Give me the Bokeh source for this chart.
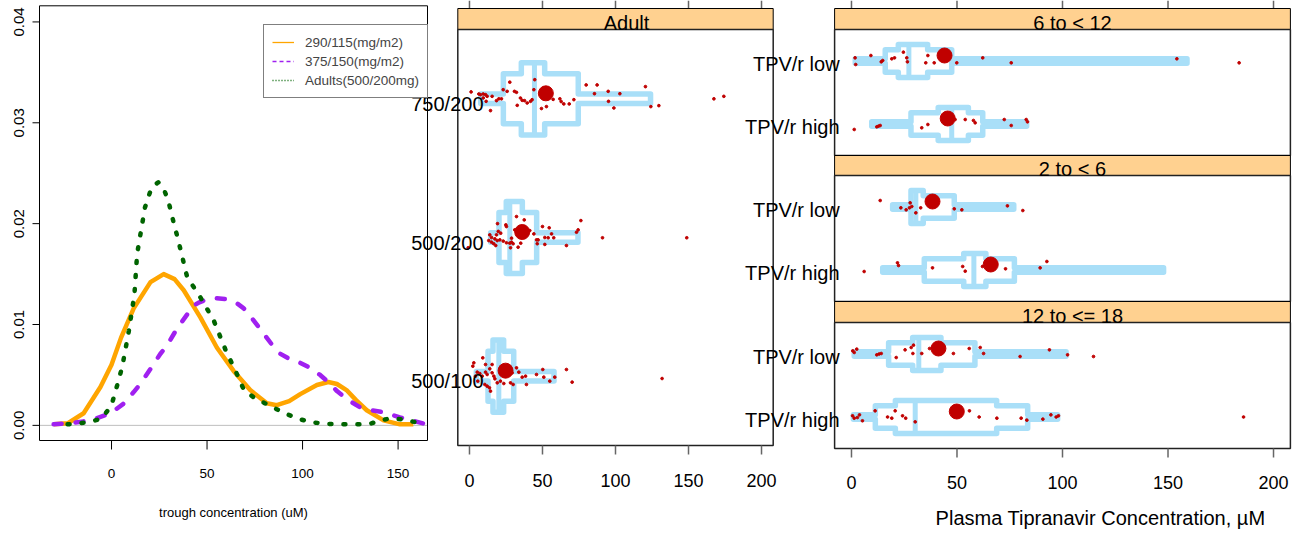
import math
from bokeh.plotting import figure
from bokeh.models import Range1d, Legend, LegendItem
from bokeh.core.properties import value
from bokeh.embed import file_html
from bokeh.resources import INLINE

# ------------------------------------------------------------------ data
# density panel (left)
dens_labels = ["290/115(mg/m2)", "375/150(mg/m2)", "Adults(500/200mg)"]
orange_x = [-30.3, -23, -14.6, -5.8, 0, 5, 11.6, 20.4, 27.3, 33, 37.8, 46.5, 55.2, 63.9, 72.6,
            81.3, 86.5, 93, 98.8, 107.5, 113.5, 118, 123, 128, 133.6, 142.4, 151, 158]
orange_y = [0.0001, 0.0002, 0.0012, 0.0038, 0.0060, 0.0087, 0.0116, 0.0142, 0.0150, 0.0145, 0.0134,
            0.0107, 0.0077, 0.0054, 0.0035, 0.0022, 0.0020, 0.0024, 0.0031, 0.0040, 0.0043, 0.0041,
            0.0035, 0.0025, 0.0015, 0.0005, 0.0001, 0.0001]
purple_x = [-30.3, -22, -14.6, -8, -0.5, 6, 11.6, 15, 20.4, 25.6, 29, 34.3, 40, 43, 46, 50, 55, 60.5,
            65, 69.2, 74, 79.6, 84, 88.3, 93, 98.8, 104, 109.2, 114, 118, 124, 130, 136, 142.4, 151,
            157, 163]
purple_y = [0.0001, 0.0002, 0.0004, 0.0007, 0.0012, 0.0021, 0.0033, 0.0041, 0.0056, 0.0071, 0.0079,
            0.0096, 0.0111, 0.0119, 0.0122, 0.0125, 0.0126, 0.0125, 0.0122, 0.0116, 0.0105, 0.0091,
            0.0080, 0.0071, 0.0066, 0.0062, 0.0057, 0.0050, 0.0042, 0.0034, 0.0025, 0.0018, 0.0015,
            0.0013, 0.0008, 0.0005, 0.0002]
green_x = [-23, -17, -10, -5, 0, 3, 5.6, 9.1, 12, 13.4, 17.5, 21, 24.5, 27, 29.7, 32, 35, 39.6, 46.5,
           53.5, 60.5, 64, 69.3, 75, 80.2, 90.7, 97, 104.6, 116.8, 130.7, 136, 141.2, 146, 151.6,
           157, 163]
green_y = [0.0001, 0.0002, 0.0004, 0.0007, 0.0020, 0.0040, 0.0058, 0.0094, 0.0130, 0.0170, 0.0216,
           0.0236, 0.0241, 0.0236, 0.0223, 0.0205, 0.0183, 0.0147, 0.0127, 0.0104, 0.0071, 0.0058,
           0.0035, 0.0027, 0.0022, 0.0012, 0.0007, 0.0003, 0.0001, 0.0001, 0.0002, 0.0005, 0.0007,
           0.0006, 0.0004, 0.0002]
dens_xticks = [0, 50, 100, 150]
dens_yticks = [0.0, 0.01, 0.02, 0.03, 0.04]
dens_ytick_labels = ["0.00", "0.01", "0.02", "0.03", "0.04"]
dens_xlabel = "trough concentration (uM)"

# adult panel (middle)
adult_strip = "Adult"
adult_groups = ["750/200", "500/200", "500/100"]
adult_thin_lo = [7.7, 14.5, 4.7]
adult_thin_hi = [124.0, 74.3, 57.9]
adult_box_lo = [23.2, 20.2, 12.7]
adult_box_hi = [74.5, 46.0, 30.3]
adult_core_lo = [35.5, 25.2, 16.1]
adult_core_hi = [51.5, 36.2, 23.4]
adult_median = [44.5, 27.6, 20.1]
adult_mean = [52.3, 36.1, 24.7]
adult_pts_x = [
    [1.1, 6.4, 7.5, 9.4, 11.0, 12.1, 9.4, 11.4, 14.4, 15.5, 18.5, 20.1, 21.9, 23.1, 25.8, 27.6,
     30.8, 32.2, 32.7, 34.9, 36.1, 37.7, 39.5, 41.8, 42.9, 44.7, 44.1, 49.3, 52.7, 57.3, 61.9,
     62.8, 64.6, 68.3, 71.5, 79.9, 87.4, 85.6, 95.0, 95.2, 98.9, 103.0, 120.5, 124.2, 129.7,
     167.4, 174.2],
    [-0.9, 13.9, 15.1, 13.2, 15.1, 16.6, 18.0, 17.4, 18.5, 19.2, 19.7, 21.4, 19.0, 20.8, 23.1,
     24.9, 25.3, 25.3, 27.6, 28.8, 28.1, 29.9, 28.8, 31.0, 32.2, 33.3, 35.1, 37.5, 41.3, 44.1,
     45.9, 47.0, 46.4, 50.0, 54.6, 56.2, 57.7, 51.6, 53.9, 51.6, 66.4, 73.3, 74.4, 76.3, 91.1,
     148.8],
    [2.97, 2.3, 9.1, 11.0, 15.5, 5.3, 7.1, 8.7, 4.1, 5.7, 11.0, 12.1, 13.9, 15.5, 16.7, 10.5,
     12.1, 14.4, 13.7, 17.4, 19.0, 21.2, 23.5, 28.1, 29.2, 32.2, 33.8, 29.9, 36.1, 38.4, 39.0,
     45.9, 50.2, 50.9, 55.0, 58.4, 66.4, 70.3, 131.9],
]
adult_pts_jitter = [
    [-0.05, -0.035, -0.03, -0.035, -0.03, -0.018, -0.006, 0.018, 0.085, -0.018, 0.013, 0.0, 0.0,
     -0.066, -0.054, -0.12, -0.054, -0.047, 0.047, -0.006, 0.011, 0.013, 0.03, 0.018, 0.006,
     -0.138, -0.066, 0.07, 0.056, 0.004, 0.0, 0.02, 0.037, 0.037, 0.006, -0.1, -0.1, -0.037,
     -0.054, 0.018, 0.066, -0.037, -0.088, 0.056, 0.049, 0.0, -0.018],
    [0.074, -0.019, 0.0, 0.022, 0.034, 0.045, 0.058, 0.01, -0.019, -0.1, -0.044, -0.031, 0.022,
     0.017, 0.026, -0.091, -0.079, 0.038, 0.041, 0.034, 0.074, 0.045, 0.005, -0.055, -0.151,
     0.07, 0.041, -0.127, -0.05, -0.026, 0.017, 0.017, 0.045, -0.079, -0.07, -0.026, 0.002, 0.0,
     0.002, 0.05, 0.058, -0.038, -0.055, -0.122, 0.002, 0.002],
    [-0.096, -0.072, -0.132, -0.084, -0.084, -0.029, -0.019, 0.0, 0.0, 0.036, -0.029, -0.012,
     -0.053, -0.024, 0.0, 0.06, 0.072, 0.108, 0.084, 0.019, 0.048, 0.036, 0.053, 0.048, -0.024,
     -0.06, -0.029, 0.06, 0.007, 0.0, 0.06, -0.012, -0.048, 0.007, 0.036, 0.007, -0.048, 0.043,
     0.017],
]

# paediatric panels (right): one entry per age strip, each [TPV/r low, TPV/r high]
ped_strips = ["6 to < 12", "2 to < 6", "12 to <= 18"]
ped_rows = ["TPV/r low", "TPV/r high"]
ped_thin_lo = [[1.8, 9.6], [19.5, 14.8], [1.3, 0.9]]
ped_thin_hi = [[159.0, 83.0], [76.9, 147.9], [101.7, 97.7]]
ped_box_lo = [[16.0, 28.2], [29.0, 34.5], [17.6, 11.3]]
ped_box_hi = [[47.5, 62.2], [48.7, 77.2], [58.5, 83.5]]
ped_core_lo = [[22.2, 41.1], [28.2, 53.2], [29.0, 20.8]]
ped_core_hi = [[36.1, 55.4], [34.0, 63.7], [42.4, 68.8]]
ped_median = [[27.2, 47.5], [30.5, 58.0], [31.9, 30.2]]
ped_mean = [[44.1, 45.6], [38.4, 66.0], [41.2, 49.9]]
ped_pts_x = [
    [[1.7, 2.0, 9.2, 14.1, 14.8, 19.1, 20.4, 24.6, 26.2, 26.5, 35.2, 36.2, 39.2, 49.9, 62.2, 75.7,
      154.2, 183.7],
     [1.3, 12.0, 12.8, 13.6, 33.3, 36.2, 49.1, 53.9, 57.8, 58.6, 72.4, 75.7, 82.8, 83.4]],
    [[13.6, 23.4, 25.9, 27.5, 28.6, 27.8, 30.5, 32.8, 48.7, 52.3, 73.9, 81.2],
     [6.0, 21.8, 22.3, 38.4, 52.7, 53.9, 62.1, 73.0, 89.4, 92.6]],
    [[0.6, 1.3, 2.5, 12.0, 13.1, 14.1, 21.2, 25.4, 28.3, 29.4, 29.1, 33.3, 37.0, 48.3, 55.8, 61.0,
      62.6, 79.9, 93.8, 102.4, 114.7],
     [0.5, 1.3, 2.8, 3.8, 5.2, 11.2, 17.1, 19.1, 20.7, 24.2, 25.7, 30.2, 55.9, 60.5, 68.9, 80.4,
      83.1, 90.7, 94.5, 97.0, 98.1, 185.8]],
]
ped_pts_jitter = [
    [[-0.05, 0.056, -0.087, 0.013, -0.008, -0.035, -0.05, -0.14, -0.05, 0.013, 0.029, -0.087,
      0.029, 0.029, -0.05, 0.029, -0.035, 0.029],
     [0.087, 0.045, 0.034, 0.024, 0.06, 0.008, -0.071, -0.071, -0.056, -0.019, -0.071, 0.024,
      -0.071, -0.034]],
    [[-0.103, 0.013, 0.045, 0.013, -0.008, -0.066, 0.093, 0.013, 0.029, 0.045, -0.018, 0.056],
     [0.024, -0.114, -0.071, -0.034, -0.056, 0.019, -0.056, -0.019, -0.034, -0.135]],
    [[-0.05, -0.024, -0.077, 0.013, 0.0, -0.008, 0.056, -0.066, -0.103, -0.14, -0.008, -0.008,
      -0.087, -0.008, -0.087, -0.103, -0.008, 0.04, -0.066, 0.013, 0.04],
     [-0.019, 0.019, 0.008, -0.034, 0.06, -0.098, 0.0, 0.019, -0.098, -0.019, 0.019, 0.077,
      -0.098, 0.0, 0.019, 0.019, 0.05, 0.034, -0.034, 0.0, -0.019, 0.0]],
]
conc_ticks = [0, 50, 100, 150, 200]
conc_xlabel = "Plasma Tipranavir Concentration, \u00b5M"

# ------------------------------------------------------------------ styles / layout
W, H = 1309, 535
MARGIN = 0
BLUE = "#A9DFF8"
RED = "#C00000"
STRIP = "#FFD190"
FRAME = "#222222"
TICK = "#666666"
SANS_NAME = "Liberation Sans"
SANS = value(SANS_NAME)
H_THIN, H_BOX, H_CORE = 0.034, 0.18, 0.26


def page_range(d_a, p_a, d_b, p_b, size, vertical=False):
    """Range so that data d_a lands at page pixel p_a and d_b at p_b."""
    s = (d_b - d_a) / (p_b - p_a)
    c_a = p_a - MARGIN
    v0 = d_a - c_a * s
    v1 = d_a + (size - c_a) * s
    return Range1d(start=v1, end=v0) if vertical else Range1d(start=v0, end=v1)


# density panel limits and its page box
XL0, XL1, YL0, YL1 = -37.7, 165.4, -0.0015, 0.0416
DPX = (39, 427, 440, 5.3)
# box panels: x limits shared
XB0, XB1 = -8, 208
MPX = (457.3, 772.7)
RPX = (834.1, 1289.9)
ADULT_Y = (29, 445)
PED_Y = [(29, 155), (175, 301), (322, 448)]
STRIP_PX = [21, 20, 21]

p = figure(width=W, height=H, x_range=Range1d(0, 1), y_range=Range1d(0, 1),
           x_axis_type=None, y_axis_type=None, toolbar_location=None,
           output_backend="svg", min_border=0, outline_line_color=None)
p.min_border_left = p.min_border_right = p.min_border_top = p.min_border_bottom = 0

p.extra_x_ranges = {
    "xd": page_range(XL0, DPX[0], XL1, DPX[1], W),
    "xm": page_range(XB0, MPX[0], XB1, MPX[1], W),
    "xr": page_range(XB0, RPX[0], XB1, RPX[1], W),
}
yr = {
    "yd": page_range(YL0, DPX[2], YL1, DPX[3], H, vertical=True),
    "ym": page_range(-0.5, ADULT_Y[0], 2.5, ADULT_Y[1], H, vertical=True),
}
for k, (a, b) in enumerate(PED_Y):
    yr["y%d" % k] = page_range(-0.5, a, 1.5, b, H, vertical=True)
p.extra_y_ranges = yr

# ------------------------------------------------------------------ left: densities
kd = dict(x_range_name="xd", y_range_name="yd")
ux = (XL1 - XL0) / (DPX[1] - DPX[0])
uy = (YL1 - YL0) / (DPX[2] - DPX[3])
p.segment(x0=[XL0], x1=[XL1], y0=[0], y1=[0], line_color="#BEBEBE", line_width=1, **kd)
p.line(orange_x, orange_y, line_color="orange", line_width=4.5, line_join="round", **kd)
p.line(purple_x, purple_y, line_color="#A020F0", line_width=4.5, line_dash="8 14",
       line_cap="round", line_join="round", **kd)
p.line(green_x, green_y, line_color="#006400", line_width=4.5, line_dash="2 12",
       line_cap="round", line_join="round", **kd)
p.quad(left=[XL0], right=[XL1], bottom=[YL0], top=[YL1], fill_color=None,
       line_color="black", line_width=1, **kd)
n = len(dens_yticks)
p.segment(x0=[XL0] * n, x1=[XL0 - 7 * ux] * n, y0=dens_yticks, y1=dens_yticks,
          line_color="black", line_width=1, **kd)
p.text(x=[XL0] * n, y=dens_yticks, text=dens_ytick_labels, angle=math.pi / 2, x_offset=-20.5,
       text_align="center", text_baseline="middle", text_font=SANS,
       text_font_size="15px", text_color="black", **kd)
m = len(dens_xticks)
p.segment(x0=dens_xticks, x1=dens_xticks, y0=[YL0] * m, y1=[YL0 - 9 * uy] * m,
          line_color="black", line_width=1, **kd)
p.text(x=dens_xticks, y=[YL0] * m, text=[str(t) for t in dens_xticks], y_offset=33,
       text_align="center", text_baseline="middle", text_font=SANS,
       text_font_size="13.5px", text_color="black", **kd)
p.text(x=[(XL0 + XL1) / 2], y=[YL0], text=[dens_xlabel], y_offset=72, text_align="center",
       text_baseline="middle", text_font=SANS, text_font_size="13px", text_color="black", **kd)

# legend with thin proxy lines
proxies = [
    p.line(orange_x, orange_y, line_color="orange", line_width=1.3, visible=False, **kd),
    p.line(purple_x, purple_y, line_color="#A020F0", line_width=1.5, line_dash="4 3",
           visible=False, **kd),
    p.line(green_x, green_y, line_color="#006400", line_width=1.3, line_dash="1 2",
           visible=False, **kd),
]
legend = Legend(items=[LegendItem(label=l, renderers=[r]) for l, r in zip(dens_labels, proxies)],
                location=(263, H - 98), padding=8, spacing=1, margin=0,
                glyph_width=22, glyph_height=18, label_height=18, label_standoff=11,
                label_text_font=SANS_NAME, label_text_font_size="13.5px",
                border_line_color="black", border_line_width=1,
                background_fill_color="white", background_fill_alpha=1)
p.add_layout(legend)


# ------------------------------------------------------------------ box panels
def outline(los, his, hs, yc):
    edges = sorted(set(los + his))
    segs = []
    for a, b in zip(edges[:-1], edges[1:]):
        mid = 0.5 * (a + b)
        h = max([hh for lo, hi, hh in zip(los, his, hs) if lo <= mid <= hi] or [0])
        segs.append((a, b, h))
    xs, ys = [], []
    for a, b, h in segs:
        xs += [a, b]
        ys += [yc - h, yc - h]
    for a, b, h in reversed(segs):
        xs += [b, a]
        ys += [yc + h, yc + h]
    return xs, ys


def draw_panel(xn, yn, thin_lo, thin_hi, box_lo, box_hi, core_lo, core_hi, med, mean,
               pts_x, pts_j, mean_shift):
    kw = dict(x_range_name=xn, y_range_name=yn)
    xs, ys = [], []
    for i in range(len(thin_lo)):
        a, b = outline([thin_lo[i], box_lo[i], core_lo[i]], [thin_hi[i], box_hi[i], core_hi[i]],
                       [H_THIN, H_BOX, H_CORE], i)
        xs.append(a)
        ys.append(b)
    p.patches(xs, ys, fill_color=None, line_color=BLUE, line_width=5.5, line_join="round", **kw)
    rows = list(range(len(med)))
    p.segment(x0=med, x1=med, y0=[r - H_CORE for r in rows], y1=[r + H_CORE for r in rows],
              line_color=BLUE, line_width=5, **kw)
    px, py = [], []
    for i, (xx, jj) in enumerate(zip(pts_x, pts_j)):
        px += xx
        py += [i + j for j in jj]
    p.scatter(px, py, size=2.7, color=RED, **kw)
    p.scatter(mean, [r - mean_shift for r in rows], size=15, color=RED, **kw)


def frame_and_strip(xn, yn, ylo, yhi, strip_units, label, xoff):
    kw = dict(x_range_name=xn, y_range_name=yn)
    p.quad(left=[XB0], right=[XB1], top=[ylo - strip_units], bottom=[ylo], fill_color=STRIP,
           line_color="black", line_width=1, **kw)
    p.quad(left=[XB0], right=[XB1], top=[ylo], bottom=[yhi], fill_color=None,
           line_color=FRAME, line_width=1.5, **kw)
    p.text(x=[(XB0 + XB1) / 2], y=[ylo], text=[label], x_offset=xoff, y_offset=-7,
           text_align="center", text_baseline="middle", text_font=SANS,
           text_font_size="20px", text_color="black", **kw)


k = len(conc_ticks)

# adult (middle)
um = 3.0 / (ADULT_Y[1] - ADULT_Y[0])
top_m = -0.5 - STRIP_PX[0] * um
kwm = dict(x_range_name="xm", y_range_name="ym")
p.segment(x0=conc_ticks, x1=conc_ticks, y0=[top_m] * k, y1=[top_m - 8 * um] * k,
          line_color=TICK, line_width=1.5, **kwm)
frame_and_strip("xm", "ym", -0.5, 2.5, STRIP_PX[0] * um, adult_strip, 11)
draw_panel("xm", "ym", adult_thin_lo, adult_thin_hi, adult_box_lo, adult_box_hi,
           adult_core_lo, adult_core_hi, adult_median, adult_mean,
           adult_pts_x, adult_pts_jitter, 5.5 * um)
p.text(x=[XB0] * 3, y=[0, 1, 2], text=adult_groups, x_offset=25.7, y_offset=5,
       text_align="right", text_baseline="middle", text_font=SANS, text_font_size="20px",
       text_color="black", **kwm)
p.segment(x0=conc_ticks, x1=conc_ticks, y0=[2.5] * k, y1=[2.5 + 9 * um] * k,
          line_color=TICK, line_width=1.5, **kwm)
p.text(x=conc_ticks, y=[2.5] * k, text=[str(t) for t in conc_ticks], y_offset=35,
       text_align="center", text_baseline="middle", text_font=SANS, text_font_size="18px",
       text_color="black", **kwm)

# paediatric (right)
u0 = 2.0 / (PED_Y[0][1] - PED_Y[0][0])
top_r = -0.5 - STRIP_PX[0] * u0
p.segment(x0=conc_ticks, x1=conc_ticks, y0=[top_r] * k, y1=[top_r - 8 * u0] * k,
          line_color=TICK, line_width=1.5, x_range_name="xr", y_range_name="y0")
for s in range(3):
    yn = "y%d" % s
    up = 2.0 / (PED_Y[s][1] - PED_Y[s][0])
    frame_and_strip("xr", yn, -0.5, 1.5, STRIP_PX[s] * up, ped_strips[s], 10)
    draw_panel("xr", yn, ped_thin_lo[s], ped_thin_hi[s], ped_box_lo[s], ped_box_hi[s],
               ped_core_lo[s], ped_core_hi[s], ped_median[s], ped_mean[s],
               ped_pts_x[s], ped_pts_jitter[s], 5.5 * up)
    p.text(x=[XB0] * 2, y=[0, 1], text=ped_rows, x_offset=5, y_offset=3,
           text_align="right", text_baseline="middle", text_font=SANS, text_font_size="20px",
           text_color="black", x_range_name="xr", y_range_name=yn)

up = 2.0 / (PED_Y[2][1] - PED_Y[2][0])
kwr = dict(x_range_name="xr", y_range_name="y2")
p.segment(x0=conc_ticks, x1=conc_ticks, y0=[1.5] * k, y1=[1.5 + 9 * up] * k,
          line_color=TICK, line_width=1.5, **kwr)
p.text(x=conc_ticks, y=[1.5] * k, text=[str(t) for t in conc_ticks], y_offset=33.5,
       text_align="center", text_baseline="middle", text_font=SANS, text_font_size="18px",
       text_color="black", **kwr)
p.text(x=[(XB0 + XB1) / 2], y=[1.5], text=[conc_xlabel], x_offset=38, y_offset=69,
       text_align="center", text_baseline="middle", text_font=SANS, text_font_size="20px",
       text_color="black", **kwr)

open("out.html", "w").write(file_html(p, INLINE))
